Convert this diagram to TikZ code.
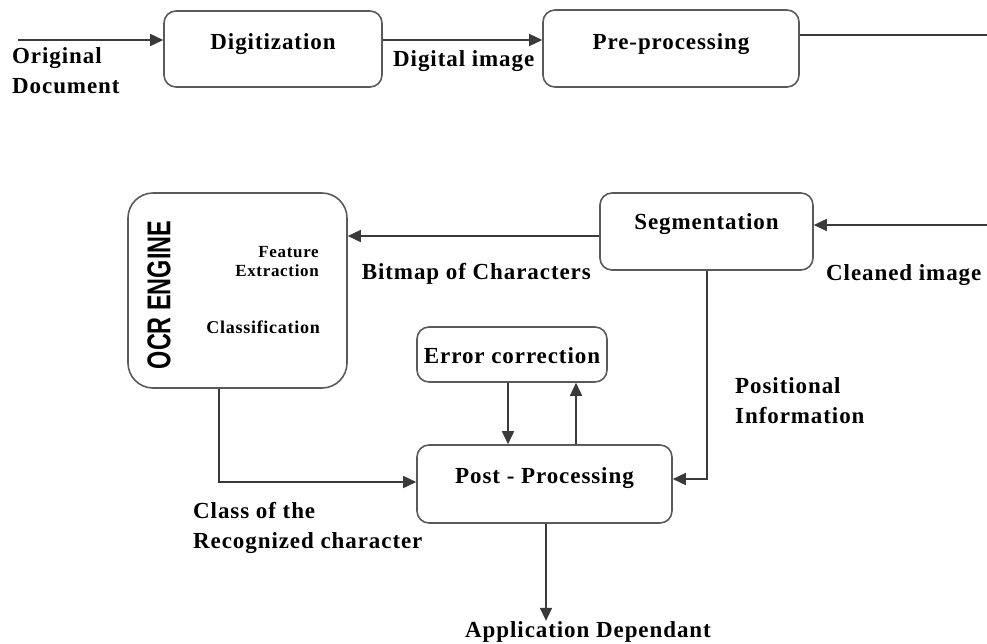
\documentclass[tikz,border=0pt]{standalone}
\usepackage{fontspec}
\setmainfont{Liberation Serif}[LetterSpace=4]
\newfontfamily\enginefont[FakeStretch=0.71]{Liberation Sans}
\usetikzlibrary{arrows.meta}

\definecolor{linegray}{HTML}{3A3A3A}
\definecolor{boxgray}{HTML}{5A5A5A}
\newcommand{\lblfont}{\fontsize{23}{30}\selectfont\bfseries}
\newcommand{\smallfont}{\fontsize{17}{19}\selectfont\bfseries}

\tikzset{
  stage/.style={draw=boxgray, line width=1.6pt, rounded corners=12pt, inner sep=0pt, font=\lblfont},
  flow/.style={draw=linegray, line width=1.6pt, -{Triangle[length=13pt,width=12pt]}},
  wire/.style={draw=linegray, line width=1.6pt},
  lbl/.style={inner sep=0pt, font=\lblfont, align=left}
}

\begin{document}
\begin{tikzpicture}[x=1pt,y=-1pt]
  \useasboundingbox (0,0) rectangle (987,643);

  \node[stage, minimum width=218pt, text height=38pt, text depth=38pt] (digit) at (273,49) {Digitization};
  \node[stage, minimum width=256pt, text height=39pt, text depth=38pt] (prep) at (671,48.5) {Pre-processing};
  \node[stage, minimum width=213pt, text height=36pt, text depth=41pt] (seg) at (706.5,231.5) {Segmentation};
  \node[stage, rounded corners=25pt, minimum width=219pt, minimum height=195pt] (ocr) at (237.5,290.5) {};
  \node[stage, minimum width=190pt, text height=36pt, text depth=19pt] (err) at (512,354.5) {Error correction};
  \node[stage, minimum width=255pt, text height=38pt, text depth=40pt] (post) at (544.5,484) {Post - Processing};

  \node[inner sep=0pt, rotate=90, font=\enginefont\fontsize{33}{34}\selectfont\bfseries] (engine) at (159,295) {OCR ENGINE};
  \node[inner sep=0pt, font=\smallfont, align=right, anchor=north east] (feat) at (319,246) {Feature\\Extraction};
  \node[inner sep=0pt, font=\smallfont\fontsize{18}{19}\selectfont, anchor=base east] (cls) at (320,333) {Classification};

  \coordinate (docin) at (18,40);
  \coordinate (prepout) at (987,35);
  \coordinate (cleanin) at (987,225);

  \draw[flow] (docin) -- (docin -| digit.west);
  \draw[flow] (digit.east |- docin) -- (prep.west |- docin);
  \draw[wire] (prep.east |- prepout) -- (prepout);
  \draw[flow] (cleanin) -- (cleanin -| seg.east);
  \draw[flow] ([yshift=-4.5pt]seg.west) -- ([yshift=-4.5pt]seg.west -| ocr.east);
  \draw[flow] ([xshift=-18.5pt]ocr.south) |- ([yshift=2pt]post.west);
  \draw[flow] ([xshift=0.5pt]seg.south) |- ([yshift=5pt]post.east);
  \draw[flow] ([xshift=-4pt]err.south) -- ([xshift=-4pt]err.south |- post.north);
  \draw[flow] ([xshift=31.5pt]post.north) -- ([xshift=31.5pt]post.north |- err.south);

  \node[lbl, anchor=north west] (orig) at (12,47) {Original\\Document};
  \node[lbl, anchor=base west] (digimg) at (393,66) {Digital image};
  \node[lbl, anchor=base east] (bitmap) at (591,279) {Bitmap of Characters};
  \node[lbl, anchor=base west] (cleaned) at (826,280) {Cleaned image};
  \node[lbl, anchor=north west] (posinfo) at (735,377) {Positional\\Information};
  \node[lbl, anchor=north west] (clsof) at (193,502) {Class of the\\Recognized character};
  \node[lbl, anchor=base west] (app) at (465,637) {Application Dependant};

  \draw[flow] ([xshift=1.5pt]post.south) -- ([xshift=1.5pt]post.south |- app.north);
\end{tikzpicture}
\end{document}
